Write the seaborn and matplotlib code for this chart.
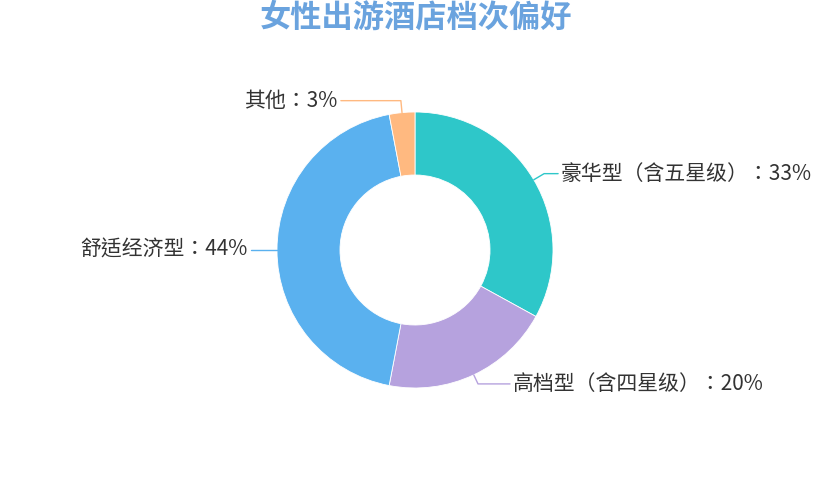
import numpy as np
import matplotlib
matplotlib.use("Agg")
import matplotlib.pyplot as plt
import seaborn as sns

# 数据
categories = ['豪华型（含五星级）', '高档型（含四星级）', '舒适经济型', '其他']
values = [33, 20, 44, 3]
colors = ['#2ec7c9', '#b6a2de', '#5ab1ef', '#ffb980']

sns.set_theme(style="white")
plt.rcParams['font.family'] = ['Noto Sans CJK TC', 'DejaVu Sans']

fig = plt.figure(figsize=(8.32, 5), dpi=100)
ax = fig.add_axes([0, 0, 1, 1])

cx, cy = 415, 250
R = 138
wedges, _ = ax.pie(values, colors=colors, startangle=90, counterclock=False,
                   radius=R, center=(cx, cy), frame=True,
                   wedgeprops=dict(width=R - 75, edgecolor='white', linewidth=0.6))
ax.set_xlim(0, 832)
ax.set_ylim(0, 500)
ax.set_aspect('equal')
ax.axis('off')

# 引导线
len1 = [12, 10, 12, 12]
len2 = [14, 32, 14, 60]
total = sum(values)
for i, (w, name, v, c) in enumerate(zip(wedges, categories, values, colors)):
    ang = np.deg2rad((w.theta1 + w.theta2) / 2)
    x1, y1 = cx + R * np.cos(ang), cy + R * np.sin(ang)
    x2, y2 = cx + (R + len1[i]) * np.cos(ang), cy + (R + len1[i]) * np.sin(ang)
    side = 1 if np.cos(ang) >= 0 else -1
    x3 = x2 + side * len2[i]
    ax.plot([x1, x2, x3], [y1, y2, y2], color=c, lw=1)
    ax.text(x3 + side * 3, y2, f"{name}：{round(v / total * 100)}%",
            ha='left' if side > 0 else 'right', va='center',
            fontsize=15, color='#333333')

fig.text(0.5, 1 - 18 / 500, '女性出游酒店档次偏好', ha='center', va='center',
         fontsize=22.5, fontweight='bold', color='#6aa3de',
         family=['Noto Sans CJK SC', 'DejaVu Sans'])

fig.savefig('out.png', dpi=100)
